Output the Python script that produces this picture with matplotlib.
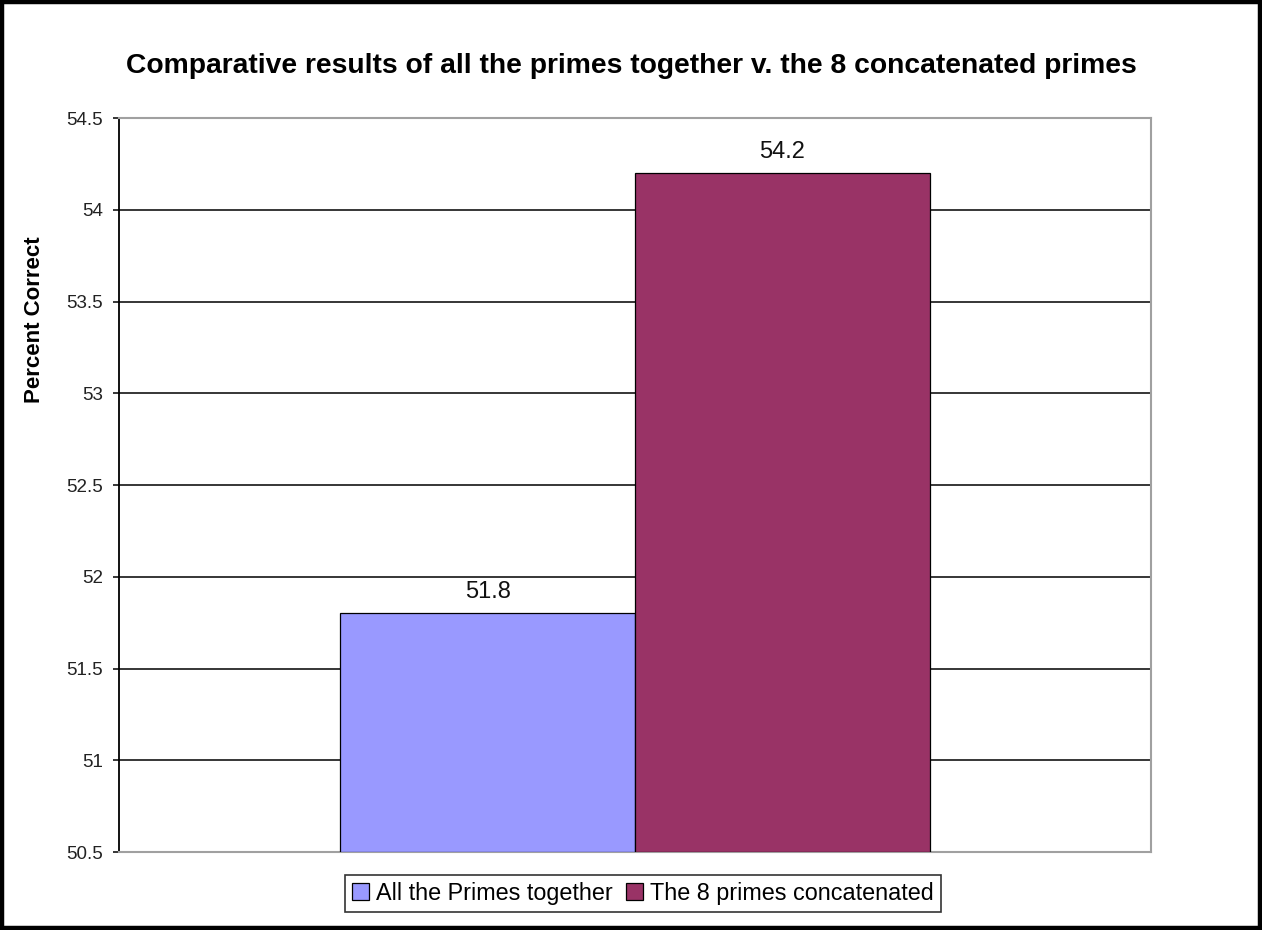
import matplotlib.pyplot as plt
from matplotlib.patches import Rectangle

plt.rcParams['font.family'] = ['Liberation Sans', 'DejaVu Sans']

series = ['All the Primes together', 'The 8 primes concatenated']
values = [51.8, 54.2]
colors = ['#9999FF', '#993366']
yticks = [50.5, 51, 51.5, 52, 52.5, 53, 53.5, 54, 54.5]

fig = plt.figure(figsize=(12.62, 9.30), dpi=100)
ax = fig.add_axes([119 / 1262, 78 / 930, 1032 / 1262, 734 / 930])

# one category, two series side by side, gap width 150%
bars = []
for i, (name, v, c) in enumerate(zip(series, values, colors)):
    b = ax.bar(i, v - yticks[0], bottom=yticks[0], width=1.0, color=c,
               edgecolor='black', linewidth=0.9, label=name, zorder=3)
    bars.append(b)
    ax.text(i, v + 0.055, f'{v:g}', ha='center', va='bottom', fontsize=17,
            color='#111111', zorder=4)

ax.set_xlim(-1.25, 2.25)
ax.set_ylim(yticks[0], yticks[-1])
ax.set_yticks(yticks)
ax.set_yticklabels([f'{t:g}' for t in yticks], fontsize=13.5, color='#222222')
ax.set_xticks([])
ax.yaxis.grid(True, color='black', linewidth=1.1, zorder=1)
ax.tick_params(axis='y', length=4.5, width=1.1, pad=7, direction='out')

for side in ['top', 'right', 'bottom']:
    ax.spines[side].set_color('#a0a0a0')
    ax.spines[side].set_linewidth(1.5)
ax.spines['left'].set_color('black')
ax.spines['left'].set_linewidth(1.3)

fig.text(631 / 1262, 1 - 66 / 930,
         'Comparative results of all the primes together v. the 8 concatenated primes',
         ha='center', va='center', fontsize=20.3, fontweight='bold')
fig.text(35 / 1262, 1 - 320 / 930, 'Percent Correct', rotation=90,
         ha='center', va='center', fontsize=16, fontweight='bold')

leg = fig.legend(handles=[b[0] for b in bars], labels=series,
                 loc='center', bbox_to_anchor=(643 / 1262, 1 - 893 / 930),
                 ncol=2, fontsize=16.8, frameon=True, fancybox=False,
                 handlelength=0.7, handleheight=0.7, handletextpad=0.3,
                 columnspacing=0.6, borderpad=0.3, borderaxespad=0)
leg.get_frame().set_edgecolor('black')
leg.get_frame().set_linewidth(1.2)

# outer chart border
fig.patches.append(Rectangle((0.0015, 0.002), 0.997, 0.996,
                             transform=fig.transFigure, fill=False,
                             edgecolor='black', linewidth=3.2))

fig.savefig('out.png', dpi=100)
